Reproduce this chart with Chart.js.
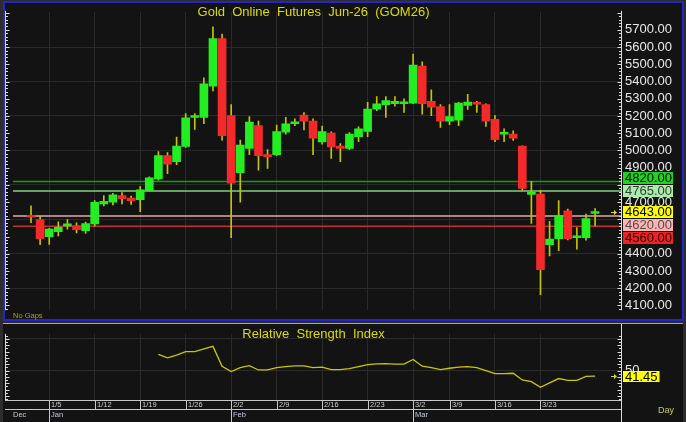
<!DOCTYPE html>
<html>
<head>
<meta charset="utf-8">
<title>Gold Online Futures Jun-26 (GOM26)</title>
<script src="https://cdn.jsdelivr.net/npm/chart.js@4.4.1/dist/chart.umd.min.js"></script>
<style>
  html, body { margin: 0; padding: 0; background: #2c2c2c; }
  #wrap { position: relative; width: 686px; height: 422px; overflow: hidden; }
  canvas { position: absolute; left: 0; }
  #priceChart { top: 0; }
  #rsiChart { top: 322px; }
</style>
</head>
<body>
<div id="wrap">
  <canvas id="priceChart" width="686" height="322"></canvas>
  <canvas id="rsiChart" width="686" height="100"></canvas>
</div>
<script>
// daily sessions, Dec 31 .. Mar 31
const opens = [4615, 4598, 4499, 4529, 4562, 4562, 4534, 4573, 4690, 4700, 4738, 4723, 4714, 4768, 4834, 4970,
  4935, 5023, 5191, 5191, 5373, 5650, 5203, 4871, 5012, 5144, 4976, 4976, 5106, 5155, 5205, 5170, 5049, 5100,
  5025, 5012, 5080, 5110, 5240, 5266, 5271, 5271, 5275, 5490, 5285, 5255, 5170, 5176, 5262, 5279, 5266, 5180,
  5094, 5095, 5025, 4745, 4747, 4453, 4488, 4650, 4493, 4493, 4634];
const highs = [4679, 4619, 4547, 4586, 4598, 4580, 4584, 4709, 4738, 4751, 4755, 4735, 4790, 4846, 4994, 4988,
  5077, 5214, 5214, 5422, 5717, 5676, 5266, 5060, 5196, 5170, 5005, 5147, 5192, 5183, 5220, 5183, 5141, 5108,
  5040, 5104, 5137, 5279, 5312, 5312, 5312, 5299, 5560, 5514, 5352, 5266, 5266, 5279, 5325, 5285, 5271, 5202,
  5125, 5114, 5027, 4821, 4769, 4589, 4709, 4659, 4552, 4631, 4663];
const lows = [4580, 4453, 4455, 4503, 4543, 4521, 4518, 4562, 4678, 4683, 4690, 4687, 4645, 4765, 4828, 4865,
  4917, 5018, 5122, 5155, 5345, 5060, 4493, 4700, 4976, 4885, 4895, 4970, 5095, 5143, 5119, 4976, 5036, 4954,
  4935, 5005, 5051, 5080, 5231, 5191, 5257, 5220, 5272, 5211, 5202, 5133, 5150, 5144, 5238, 5220, 5139, 5051,
  5051, 5058, 4769, 4576, 4162, 4387, 4418, 4481, 4427, 4479, 4562];
const closes = [4612, 4488, 4543, 4554, 4573, 4540, 4576, 4698, 4705, 4742, 4720, 4709, 4771, 4841, 4970, 4920,
  5025, 5189, 5203, 5386, 5650, 5086, 4810, 5031, 5165, 4970, 4962, 5110, 5154, 5165, 5170, 5071, 5110, 5021,
  5012, 5095, 5126, 5240, 5270, 5290, 5285, 5277, 5496, 5271, 5251, 5170, 5196, 5275, 5281, 5268, 5170, 5062,
  5096, 5071, 4779, 4748, 4308, 4486, 4619, 4488, 4503, 4604, 4643];
const rsiValues = [null, null, null, null, null, null, null, null, null, null, null, null, null, null,
  75.6, 70.0, 74.2, 79.7, 79.7, 84.3, 88.1, 56.9, 48.6, 54.7, 57.9, 51.0, 51.0, 54.7, 56.1, 57.5, 57.5, 54.7,
  55.6, 51.4, 51.4, 53.2, 56.1, 59.3, 60.7, 61.1, 60.3, 60.3, 67.6, 56.9, 54.7, 51.4, 53.7, 55.6, 56.1, 54.7,
  50.0, 45.4, 45.4, 45.8, 35.3, 32.5, 23.6, 30.6, 37.5, 34.7, 34.7, 40.8, 41.45];

const weekTicks = [2, 7, 12, 17, 22, 27, 32, 37, 42, 46, 51, 56];
const weekLabels = ['1/5', '1/12', '1/19', '1/26', '2/2', '2/9', '2/16', '2/23', '3/2', '3/9', '3/16', '3/23'];
const monthStarts = [0, 2, 22, 42];
const monthLabels = ['Dec', 'Jan', 'Feb', 'Mar'];
const priceTicks = [5700, 5600, 5500, 5400, 5300, 5200, 5100, 5000, 4900, 4800, 4700, 4600, 4500, 4400, 4300, 4200, 4100];
const rsiTicks = [50, 100];

const levelValues = [4820, 4765, 4620, 4560];
const levelColors = ['#129e12', '#7ad67a', '#e8a6a6', '#c23030'];
const boxValues = [4820, 4765, 4643, 4620, 4560];
const boxFills = ['#1ed41e', '#a8eea8', '#ffff00', '#ffb2b2', '#e82424'];
const boxTexts = ['#000000', '#3a3a3a', '#000000', '#505050', '#300000'];
const lastPrice = 4643;
const lastRsi = 41.45;

const FONT = "'Liberation Sans', Arial, sans-serif";
const BG = '#131313';
const GRID = '#2a2a2a';
const UP = '#22ee22';
const DOWN = '#f42a2a';
const WICK = '#c4c400';
const YELLOW = '#dcdc00';
const X_MIN = -2.75, X_MAX = 64.85;

Chart.defaults.font.family = FONT;

const idx = opens.map((_, i) => i);

function weekGrid(scale) {
  scale.ticks = weekTicks.map(v => ({value: v}));
}

// price boxes on the right axis, pushed apart from the last price box
function boxLayout(y) {
  const items = boxValues.map((v, i) => ({v, i, y: y.getPixelForValue(v)}));
  const a = boxValues.indexOf(lastPrice);
  for (let j = a - 1; j >= 0; j--) items[j].y = Math.min(items[j].y, items[j + 1].y - 13);
  for (let j = a + 1; j < items.length; j++) items[j].y = Math.max(items[j].y, items[j - 1].y + 13);
  return items;
}

function axisLine(ctx, x, top, bottom, scale, step, major, dir) {
  ctx.strokeStyle = '#dcdcdc';
  ctx.lineWidth = 1;
  ctx.beginPath();
  ctx.moveTo(x + .5, top);
  ctx.lineTo(x + .5, bottom);
  const lo = Math.ceil(scale.min / step) * step;
  for (let v = lo; v <= scale.max; v += step) {
    const py = Math.round(scale.getPixelForValue(v)) + .5;
    const len = Math.round(v / step) % major === 0 ? 4 : 2.5;
    ctx.moveTo(x + .5, py);
    ctx.lineTo(x + .5 + dir * len, py);
  }
  ctx.stroke();
}

function arrow(ctx, x, y) {
  ctx.strokeStyle = YELLOW;
  ctx.fillStyle = YELLOW;
  ctx.lineWidth = 1;
  ctx.beginPath();
  ctx.moveTo(x - 5, y);
  ctx.lineTo(x, y);
  ctx.stroke();
  ctx.beginPath();
  ctx.moveTo(x + 1, y);
  ctx.lineTo(x - 2, y - 2.5);
  ctx.lineTo(x - 2, y + 2.5);
  ctx.fill();
}

const pricePanel = {
  id: 'pricePanel',
  beforeDraw(chart) {
    const {ctx, width, height} = chart;
    ctx.save();
    ctx.fillStyle = '#2c2c2c';
    ctx.fillRect(0, 0, width, height);
    ctx.fillStyle = BG;
    ctx.fillRect(4, 2, 679, 318);
    ctx.strokeStyle = '#2424c8';
    ctx.lineWidth = 2;
    ctx.strokeRect(4, 2, 679, 318);
    ctx.restore();
  },
  beforeDatasetsDraw(chart) {
    const {ctx, chartArea: a, scales: {y}} = chart;
    ctx.save();
    levelValues.forEach((v, i) => {
      const py = y.getPixelForValue(v);
      ctx.strokeStyle = levelColors[i];
      ctx.lineWidth = 1.5;
      ctx.beginPath();
      ctx.moveTo(a.left + 7, py);
      ctx.lineTo(a.right, py);
      ctx.stroke();
    });
    ctx.restore();
  },
  afterDraw(chart) {
    const {ctx, chartArea: a, scales: {y}} = chart;
    ctx.save();
    axisLine(ctx, a.left - 1, a.top - 1, a.bottom, y, 20, 5, 1);
    axisLine(ctx, a.right, a.top - 1, a.bottom, y, 20, 5, -1);

    ctx.fillStyle = YELLOW;
    ctx.font = `13px ${FONT}`;
    ctx.textAlign = 'center';
    ctx.textBaseline = 'alphabetic';
    ctx.fillText('Gold  Online  Futures  Jun-26  (GOM26)', (a.left + a.right) / 2, 16);

    ctx.fillStyle = '#a8a800';
    ctx.font = `7.5px ${FONT}`;
    ctx.textAlign = 'left';
    ctx.fillText('No Gaps', 13, 318);

    ctx.font = `13px ${FONT}`;
    ctx.textBaseline = 'middle';
    boxLayout(y).forEach(b => {
      ctx.fillStyle = boxFills[b.i];
      ctx.fillRect(a.right + 2, Math.round(b.y) - 6, 50, 12);
      ctx.fillStyle = boxTexts[b.i];
      ctx.fillText(b.v.toFixed(2), a.right + 4, Math.round(b.y) + 0.5);
    });
    arrow(ctx, a.right - 5, Math.round(y.getPixelForValue(lastPrice)) + .5);
    ctx.restore();
  }
};

new Chart(document.getElementById('priceChart'), {
  type: 'bar',
  data: {
    datasets: [
      {
        data: idx.map(i => ({x: i, y: [opens[i], closes[i]]})),
        backgroundColor: idx.map(i => closes[i] >= opens[i] ? UP : DOWN),
        barThickness: 8,
        minBarLength: 2,
        grouped: false,
        order: 1
      },
      {
        data: idx.map(i => ({x: i, y: [lows[i], highs[i]]})),
        backgroundColor: WICK,
        barThickness: 1,
        grouped: false,
        order: 2
      }
    ]
  },
  options: {
    responsive: false,
    animation: false,
    layout: {padding: {left: 6, top: 4, bottom: 4, right: 0}},
    plugins: {legend: {display: false}, tooltip: {enabled: false}},
    scales: {
      x: {
        type: 'linear',
        min: X_MIN,
        max: X_MAX,
        offset: false,
        afterBuildTicks: weekGrid,
        ticks: {display: false},
        grid: {color: GRID, drawTicks: false, offset: false},
        border: {display: false},
        afterFit: s => { s.height = 0; }
      },
      y: {
        position: 'right',
        min: 4072.4,
        max: 5804.8,
        afterBuildTicks: s => { s.ticks = priceTicks.map(v => ({value: v})); },
        grid: {
          color: c => c.tick && c.tick.value % 200 === 0 ? GRID : 'rgba(0,0,0,0)',
          drawTicks: false
        },
        border: {display: false},
        ticks: {
          padding: 4,
          font: {size: 13},
          color: c => {
            const sc = c.chart.scales.y;
            const py = sc.getPixelForValue(c.tick.value);
            return boxLayout(sc).some(b => Math.abs(b.y - py) < 8) ? 'rgba(0,0,0,0)' : '#e8e8e8';
          },
          callback: v => v.toFixed(2)
        },
        afterFit: s => { s.width = 65; }
      }
    }
  },
  plugins: [pricePanel]
});

const rsiPanel = {
  id: 'rsiPanel',
  beforeDraw(chart) {
    const {ctx, width, height} = chart;
    ctx.save();
    ctx.fillStyle = '#2c2c2c';
    ctx.fillRect(0, 0, width, height);
    ctx.fillStyle = BG;
    ctx.fillRect(3, 2, 680, height - 2);
    ctx.fillStyle = '#a8a8a8';
    ctx.fillRect(3, 1, 680, 1);
    ctx.restore();
  },
  afterDraw(chart) {
    const {ctx, chartArea: a, scales: {x, y}, height} = chart;
    ctx.save();
    axisLine(ctx, a.left - 1, a.top, a.bottom, y, 5, 2, 1);
    axisLine(ctx, a.right, 2, height, y, 5, 2, -1);

    // date rows under the indicator
    ctx.strokeStyle = '#c8c8c8';
    ctx.lineWidth = 1;
    ctx.beginPath();
    ctx.moveTo(a.left - 1, a.bottom + .5);
    ctx.lineTo(a.right, a.bottom + .5);
    ctx.moveTo(a.left - 1, a.bottom + 9.5);
    ctx.lineTo(a.right, a.bottom + 9.5);
    weekTicks.forEach(v => {
      const px = Math.round(x.getPixelForValue(v)) + .5;
      ctx.moveTo(px, a.bottom);
      ctx.lineTo(px, a.bottom + 10);
    });
    monthStarts.slice(1).forEach(v => {
      const px = Math.round(x.getPixelForValue(v)) + .5;
      ctx.moveTo(px, a.bottom + 10);
      ctx.lineTo(px, height);
    });
    ctx.stroke();

    ctx.font = `7.5px ${FONT}`;
    ctx.textAlign = 'left';
    ctx.textBaseline = 'middle';
    ctx.fillStyle = '#d0d0d0';
    weekTicks.forEach((v, i) => {
      ctx.fillText(weekLabels[i], Math.round(x.getPixelForValue(v)) + 2, a.bottom + 5);
    });
    ctx.fillStyle = '#c0cce0';
    monthStarts.forEach((v, i) => {
      const px = i === 0 ? a.left + 7 : Math.round(x.getPixelForValue(v)) + 2;
      ctx.fillText(monthLabels[i], px, a.bottom + 15);
    });

    ctx.fillStyle = YELLOW;
    ctx.font = `13px ${FONT}`;
    ctx.textAlign = 'center';
    ctx.textBaseline = 'alphabetic';
    ctx.fillText('Relative  Strength  Index', (a.left + a.right) / 2, 16);

    ctx.fillStyle = '#c8c860';
    ctx.font = `9px ${FONT}`;
    ctx.textAlign = 'left';
    ctx.textBaseline = 'middle';
    ctx.fillText('Day', 658, 89);

    const py = Math.round(y.getPixelForValue(lastRsi));
    const label = lastRsi.toFixed(2);
    ctx.font = `13px ${FONT}`;
    const w = ctx.measureText(label).width + 4;
    ctx.fillStyle = '#ffff00';
    ctx.fillRect(a.right + 2, py - 5, w, 11);
    ctx.fillStyle = '#000000';
    ctx.fillText(label, a.right + 4, py + 1);
    arrow(ctx, a.right - 5, py + .5);
    ctx.restore();
  }
};

new Chart(document.getElementById('rsiChart'), {
  type: 'line',
  data: {
    datasets: [{
      data: rsiValues.map((v, i) => ({x: i, y: v})),
      borderColor: '#c8c800',
      borderWidth: 1.3,
      pointRadius: 0,
      tension: 0
    }]
  },
  options: {
    responsive: false,
    animation: false,
    layout: {padding: {left: 6, top: 3, bottom: 22, right: 0}},
    plugins: {legend: {display: false}, tooltip: {enabled: false}},
    scales: {
      x: {
        type: 'linear',
        min: X_MIN,
        max: X_MAX,
        afterBuildTicks: weekGrid,
        ticks: {display: false},
        grid: {color: GRID, drawTicks: false},
        border: {display: false},
        afterFit: s => { s.height = 0; }
      },
      y: {
        position: 'right',
        min: 3.75,
        max: 107.9,
        afterBuildTicks: s => { s.ticks = rsiTicks.map(v => ({value: v})); },
        grid: {color: GRID, drawTicks: false},
        border: {display: false},
        ticks: {
          padding: 4,
          font: {size: 13},
          color: '#e8e8e8',
          callback: v => v === 50 ? '50' : ''
        },
        afterFit: s => { s.width = 65; }
      }
    }
  },
  plugins: [rsiPanel]
});
</script>
</body>
</html>
